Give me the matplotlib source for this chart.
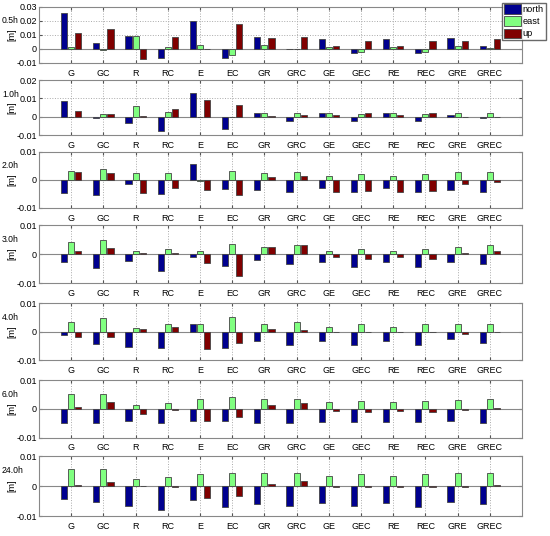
import numpy as np
import matplotlib.pyplot as plt

plt.rcParams['font.family'] = ['Liberation Sans', 'DejaVu Sans']

kombinacije = ['G', 'GC', 'R', 'RC', 'E', 'EC', 'GR', 'GRC', 'GE', 'GEC', 'RE', 'REC', 'GRE', 'GREC']
sesije = ['0.5h', '1.0h', '2.0h', '3.0h', '4.0h', '6.0h', '24.0h']

# north / east / up [m], one list per session
north_05 = [0.0257, 0.0040, 0.0095, -0.0064, 0.0198, -0.0064, 0.0083, 0.0002, 0.0071, -0.0029, 0.0071, -0.0030, 0.0079, 0.0019]
east_05 = [0.0012, -0.0005, 0.0093, 0.0012, 0.0029, -0.0043, 0.0029, 0.0002, 0.0012, -0.0021, 0.0012, -0.0021, 0.0021, 0.0007]
up_05 = [0.0117, 0.0143, -0.0071, 0.0088, 0.0000, 0.0176, 0.0076, 0.0086, 0.0021, 0.0060, 0.0021, 0.0060, 0.0055, 0.0069]

north_1 = [0.0087, -0.0009, -0.0033, -0.0076, 0.0130, -0.0069, 0.0020, -0.0024, 0.0019, -0.0024, 0.0020, -0.0024, 0.0009, -0.0007]
east_1 = [-0.0003, 0.0017, 0.0057, 0.0028, -0.0002, 0.0000, 0.0020, 0.0019, 0.0019, 0.0013, 0.0019, 0.0013, 0.0022, 0.0020]
up_1 = [0.0031, 0.0015, 0.0003, 0.0041, 0.0089, 0.0065, 0.0006, 0.0009, 0.0007, 0.0019, 0.0007, 0.0019, 0.0000, 0.0000]

north_2 = [-0.0046, -0.0055, -0.0013, -0.0051, 0.0056, -0.0032, -0.0037, -0.0043, -0.0030, -0.0042, -0.0029, -0.0042, -0.0035, -0.0042]
east_2 = [0.0033, 0.0038, 0.0024, 0.0025, -0.0004, 0.0032, 0.0024, 0.0030, 0.0013, 0.0021, 0.0013, 0.0021, 0.0027, 0.0029]
up_2 = [0.0029, 0.0025, -0.0045, -0.0030, -0.0035, -0.0054, 0.0012, 0.0014, -0.0043, -0.0038, -0.0043, -0.0038, -0.0014, -0.0008]

north_3 = [-0.0029, -0.0049, -0.0023, -0.0058, -0.0010, -0.0042, -0.0020, -0.0036, -0.0027, -0.0044, -0.0028, -0.0044, -0.0026, -0.0033]
east_3 = [0.0040, 0.0049, 0.0011, 0.0018, 0.0012, 0.0034, 0.0026, 0.0032, 0.0011, 0.0019, 0.0011, 0.0019, 0.0025, 0.0031]
up_3 = [0.0011, 0.0021, 0.0002, 0.0003, -0.0030, -0.0075, 0.0026, 0.0030, -0.0010, -0.0016, -0.0010, -0.0016, 0.0005, 0.0010]

north_4 = [-0.0013, -0.0044, -0.0054, -0.0056, 0.0027, -0.0058, -0.0031, -0.0045, -0.0034, -0.0045, -0.0034, -0.0045, -0.0027, -0.0040]
east_4 = [0.0033, 0.0047, 0.0013, 0.0028, 0.0029, 0.0051, 0.0026, 0.0033, 0.0018, 0.0026, 0.0018, 0.0026, 0.0026, 0.0029]
up_4 = [-0.0019, -0.0018, 0.0011, 0.0018, -0.0061, -0.0041, 0.0011, 0.0008, 0.0000, -0.0002, 0.0000, -0.0002, -0.0009, -0.0002]

north_6 = [-0.0050, -0.0050, -0.0040, -0.0050, -0.0040, -0.0040, -0.0047, -0.0050, -0.0044, -0.0046, -0.0044, -0.0046, -0.0042, -0.0048]
east_6 = [0.0050, 0.0052, 0.0013, 0.0022, 0.0035, 0.0043, 0.0035, 0.0035, 0.0023, 0.0028, 0.0023, 0.0028, 0.0032, 0.0034]
up_6 = [0.0007, 0.0025, -0.0017, -0.0004, -0.0041, -0.0028, 0.0015, 0.0021, -0.0008, -0.0010, -0.0008, -0.0010, -0.0002, 0.0003]

north_24 = [-0.0043, -0.0053, -0.0067, -0.0080, -0.0047, -0.0070, -0.0060, -0.0067, -0.0057, -0.0067, -0.0057, -0.0070, -0.0053, -0.0060]
east_24 = [0.0057, 0.0057, 0.0023, 0.0030, 0.0040, 0.0043, 0.0043, 0.0043, 0.0033, 0.0040, 0.0033, 0.0040, 0.0043, 0.0043]
up_24 = [0.0005, 0.0013, 0.0000, -0.0002, -0.0040, -0.0033, 0.0007, 0.0017, -0.0003, -0.0003, -0.0003, -0.0003, -0.0003, 0.0003]

podaci = [
	(north_05, east_05, up_05),
	(north_1, east_1, up_1),
	(north_2, east_2, up_2),
	(north_3, east_3, up_3),
	(north_4, east_4, up_4),
	(north_6, east_6, up_6),
	(north_24, east_24, up_24),
]
granice = [(-0.01, 0.03), (-0.01, 0.02)] + [(-0.01, 0.01)] * 5

# axes placement in figure fractions (left, bottom, width, height)
pozicije = [
	[0.071, 0.8825, 0.878, 0.1045],
	[0.071, 0.748, 0.878, 0.1026],
	[0.071, 0.612, 0.878, 0.1045],
	[0.071, 0.472, 0.878, 0.108],
	[0.071, 0.328, 0.878, 0.106],
	[0.071, 0.183, 0.878, 0.108],
	[0.071, 0.037, 0.878, 0.112],
]

boje = ['#00008F', '#80FF80', '#800000']
imena = ['north', 'east', 'up']
x = np.arange(1, len(kombinacije) + 1)
pomak = 0.22
sirina = 0.19

W, H = 550.0, 536.0
fig = plt.figure(figsize=(5.5, 5.36), dpi=100)
prvi = None
for i in range(len(sesije)):
	ax = fig.add_axes(pozicije[i])
	serije = podaci[i]
	trake = []
	for k in range(3):
		b = ax.bar(x + (k - 1) * pomak, serije[k], width=sirina, color=boje[k],
			edgecolor='#444444', linewidth=0.6, zorder=3)
		trake.append(b)
	if i == 0:
		prvi = trake
	ax.axhline(0, color='#888888', linewidth=0.8, zorder=2)
	ax.set_xlim(0, 15)
	ax.set_ylim(granice[i])
	yt = np.arange(granice[i][0], granice[i][1] + 0.001, 0.01)
	ax.set_yticks(yt)
	ax.set_yticklabels(['0' if abs(v) < 1e-9 else '%.2f' % v for v in yt])
	ax.set_xticks(x)
	ax.set_xticklabels(kombinacije)
	ax.grid(True, linestyle=':', color='#AAAAAA', linewidth=0.7, zorder=0)
	ax.tick_params(direction='in', labelsize=6.5, length=2.5, top=True, right=True,
		color='#555555')
	ax.tick_params(axis='y', pad=1.5)
	ax.tick_params(axis='x', pad=4)
	for s in ax.spines.values():
		s.set_color('#888888')
		s.set_linewidth(0.8)
	ax.set_ylabel('[m]', fontsize=6.5)
	ax.yaxis.set_label_coords(-0.047, 0.5)
	vrh = pozicije[i][1] + pozicije[i][3]
	fig.text(2 / W, vrh - 14 / H, sesije[i], fontsize=6.2, ha='left', va='center')

fig.legend(prvi, imena, loc='upper right', bbox_to_anchor=(0.994, 0.997), fontsize=6.6,
	frameon=True, fancybox=False, edgecolor='#444444', handlelength=1.9, handleheight=1.2,
	handletextpad=0.2, borderpad=0.2, labelspacing=0.25, borderaxespad=0.1)

plt.savefig('out.png', dpi=100)
